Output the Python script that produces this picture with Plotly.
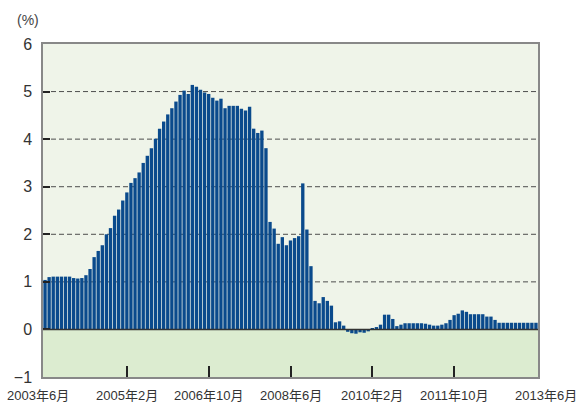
import plotly.graph_objects as go

# Monthly values, 2003-06 .. 2013-06 (121 months), in %
start_year, start_month = 2003, 6
values = [
    1.04, 1.10, 1.11, 1.11, 1.11, 1.11, 1.11, 1.08, 1.07, 1.08,
    1.14, 1.27, 1.52, 1.65, 1.77, 2.00, 2.13, 2.39, 2.52, 2.71,
    2.88, 3.08, 3.18, 3.30, 3.50, 3.65, 3.81, 4.01, 4.22, 4.37,
    4.52, 4.65, 4.79, 4.93, 5.02, 4.95, 5.14, 5.10, 5.04, 4.98,
    4.95, 4.87, 4.81, 4.85, 4.65, 4.70, 4.70, 4.70, 4.64, 4.60,
    4.68, 4.22, 4.13, 4.18, 3.81, 2.26, 2.12, 1.80, 1.94, 1.77,
    1.87, 1.92, 1.96, 3.07, 2.10, 1.33, 0.60, 0.55, 0.68, 0.60,
    0.50, 0.15, 0.17, 0.08, -0.05, -0.08, -0.09, -0.06, -0.07, -0.04,
    0.02, 0.05, 0.10, 0.31, 0.31, 0.22, 0.07, 0.10, 0.13, 0.13,
    0.13, 0.13, 0.13, 0.12, 0.10, 0.08, 0.08, 0.10, 0.13, 0.20,
    0.30, 0.33, 0.40, 0.37, 0.32, 0.32, 0.32, 0.32, 0.27, 0.27,
    0.20, 0.14, 0.14, 0.14, 0.14, 0.14, 0.14, 0.14, 0.14, 0.14,
    0.14,
]

months = []
y, m = start_year, start_month
for _ in values:
    months.append(f"{y}年{m}月")
    m += 1
    if m > 12:
        m = 1
        y += 1

x_idx = list(range(len(values)))
tick_labels = ["2003年6月", "2005年2月", "2006年10月", "2008年6月",
               "2010年2月", "2011年10月", "2013年6月"]
tick_pos = [months.index(t) for t in tick_labels]
y_ticks = [-1, 0, 1, 2, 3, 4, 5, 6]

FONT = "Liberation Sans, Arial, Noto Sans CJK JP, sans-serif"
TXT = "#333333"

fig = go.Figure()
fig.add_trace(go.Bar(
    x=x_idx, y=values, customdata=months,
    marker=dict(color="#0a4a8c", line=dict(width=0)),
    hovertemplate="%{customdata}: %{y}%<extra></extra>",
))

# lower (negative) background band
fig.add_shape(type="rect", xref="paper", yref="y", x0=0, x1=1, y0=-1, y1=0,
              fillcolor="#dcecd0", line=dict(width=0), layer="below")
# dashed gridlines
for v in [1, 2, 3, 4, 5]:
    fig.add_shape(type="line", xref="paper", yref="y", x0=0, x1=1, y0=v, y1=v,
                  line=dict(color="#4d4d4d", width=1, dash="5px,3px"), layer="below")
# zero line
fig.add_shape(type="line", xref="paper", yref="y", x0=0, x1=1, y0=0, y1=0,
              line=dict(color="#333333", width=1.5), layer="above")

# x labels
for t, p in zip(tick_labels, tick_pos):
    shift = 0
    if p == tick_pos[0]:
        shift = -7
    elif p == tick_pos[-1]:
        shift = 10
    fig.add_annotation(x=p, y=0, xref="x", yref="paper", text=t, showarrow=False,
                       xanchor="center", yanchor="top", yshift=-9, xshift=shift,
                       font=dict(family=FONT, size=13, color=TXT))

fig.add_annotation(x=(28 - 43) / 495, y=(407 - 30 - 20) / 333, xref="paper", yref="paper",
                   text="(%)", showarrow=False, xanchor="center", yanchor="middle",
                   font=dict(family=FONT, size=14, color="#444444"))

fig.update_layout(
    width=582, height=407,
    margin=dict(l=43, r=44, t=44, b=30),
    paper_bgcolor="white",
    plot_bgcolor="#eff4e9",
    bargap=0.18,
    showlegend=False,
    xaxis=dict(range=[-0.5, len(values) - 0.5], tickvals=tick_pos[1:-1],
               showticklabels=False, ticks="inside", ticklen=11, tickwidth=2,
               tickcolor="#222222", showgrid=False, zeroline=False,
               showline=True, linecolor="#888888", linewidth=1.5, mirror=True),
    yaxis=dict(range=[-1, 6], tickvals=y_ticks,
               ticktext=["−1" if v == -1 else str(v) for v in y_ticks],
               ticks="inside", ticklen=7, tickwidth=2, tickcolor="#222222",
               ticklabelstandoff=6,
               showgrid=False, zeroline=False,
               showline=True, linecolor="#888888", linewidth=1.5, mirror=True,
               tickfont=dict(family=FONT, size=16, color=TXT)),
)

fig.write_html("out.html", config={"displayModeBar": False},
               post_script="document.body.style.margin='0';document.body.style.padding='0';")
